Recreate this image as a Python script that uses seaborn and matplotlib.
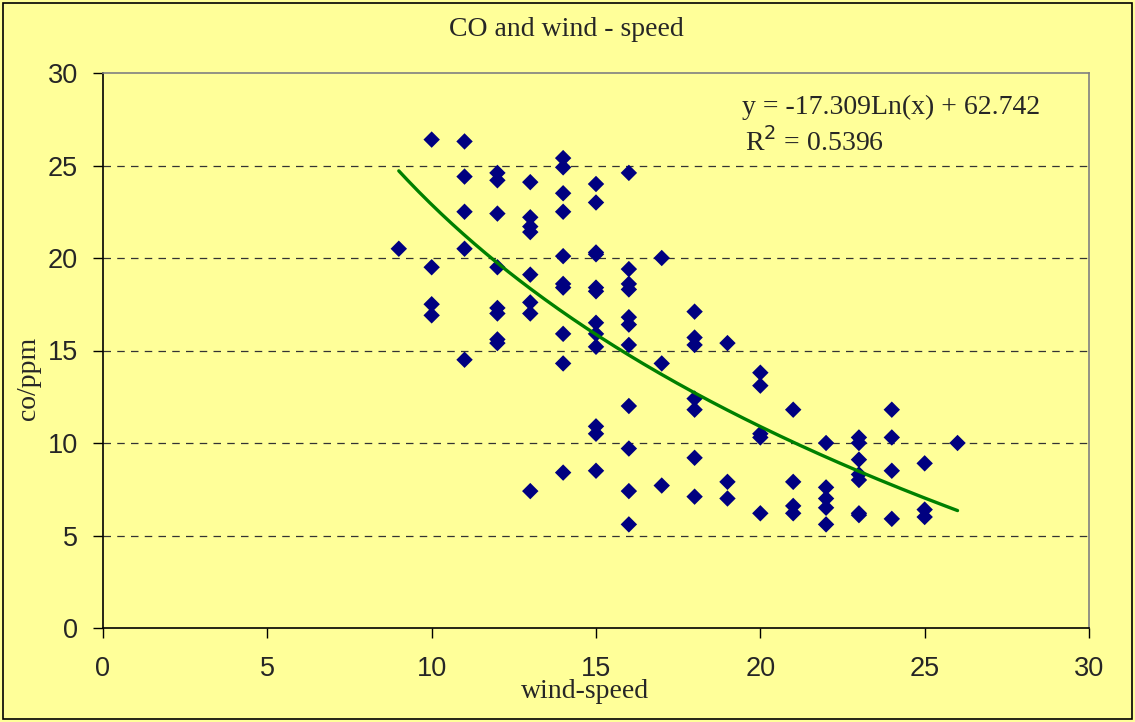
import numpy as np
import pandas as pd
import matplotlib
matplotlib.use("Agg")
import matplotlib.pyplot as plt
import seaborn as sns

# Valeurs : vitesse du vent -> CO (ppm)
vent_9 = [20.5]
vent_10 = [26.4, 19.5, 17.5, 16.9]
vent_11 = [26.3, 24.4, 22.5, 20.5, 14.5]
vent_12 = [24.6, 24.2, 22.4, 19.5, 17.3, 17.0, 15.6, 15.4]
vent_13 = [24.1, 22.2, 21.7, 21.4, 19.1, 17.6, 17.0, 7.4]
vent_14 = [25.4, 24.9, 23.5, 22.5, 20.1, 18.6, 18.4, 15.9, 14.3, 8.4]
vent_15 = [24.0, 23.0, 20.3, 20.2, 18.4, 18.2, 16.5, 15.9, 15.2, 10.9, 10.5, 8.5]
vent_16 = [24.6, 19.4, 18.6, 18.3, 16.8, 16.4, 15.3, 12.0, 9.7, 7.4, 5.6]
vent_17 = [20.0, 14.3, 7.7]
vent_18 = [17.1, 15.7, 15.3, 12.4, 11.8, 9.2, 7.1]
vent_19 = [15.4, 7.9, 7.0]
vent_20 = [13.8, 13.1, 10.5, 10.3, 6.2]
vent_21 = [11.8, 7.9, 6.6, 6.2]
vent_22 = [10.0, 7.6, 7.0, 6.5, 5.6]
vent_23 = [10.3, 10.0, 9.1, 8.3, 8.0, 6.2, 6.1]
vent_24 = [11.8, 10.3, 8.5, 5.9]
vent_25 = [8.9, 6.4, 6.0]
vent_26 = [10.0]

mesures = {9: vent_9, 10: vent_10, 11: vent_11, 12: vent_12, 13: vent_13,
           14: vent_14, 15: vent_15, 16: vent_16, 17: vent_17, 18: vent_18,
           19: vent_19, 20: vent_20, 21: vent_21, 22: vent_22, 23: vent_23,
           24: vent_24, 25: vent_25, 26: vent_26}

# Coefficients de la courbe de tendance (affichés sur le graphique)
coef_a = -17.309
coef_b = 62.742
r2 = 0.5396

donnees = pd.DataFrame([(v, c) for v, lst in mesures.items() for c in lst],
                       columns=["wind-speed", "co"])

# Style
sns.set_style("white")
jaune = "#FFFF99"
serif = ["Liberation Serif", "DejaVu Serif"]
plt.rcParams["font.family"] = ["Liberation Sans", "DejaVu Sans"]

fig = plt.figure(figsize=(11.35, 7.22), dpi=100, facecolor=jaune)
ax = fig.add_axes([103 / 1135, 1 - 628 / 722, (1089 - 103) / 1135, (628 - 73) / 722])
ax.set_facecolor(jaune)

# Lignes de grille horizontales en pointillés
for yv in [5, 10, 15, 20, 25]:
    ax.axhline(yv, color="#333333", lw=0.9, ls=(0, (6, 5)), zorder=1)

# Nuage de points
sns.scatterplot(data=donnees, x="wind-speed", y="co", marker="D", s=70,
                color="#000080", edgecolor="none", ax=ax, zorder=3)

# Courbe de tendance logarithmique
xs = np.linspace(donnees["wind-speed"].min(), donnees["wind-speed"].max(), 200)
sns.lineplot(x=xs, y=coef_a * np.log(xs) + coef_b, color="#008000", lw=2.4,
             ax=ax, zorder=4)

ax.set_xlim(0, 30)
ax.set_ylim(0, 30)
ax.set_xticks(range(0, 31, 5))
ax.set_yticks(range(0, 31, 5))
ax.tick_params(axis="both", which="both", direction="out", length=7, width=1,
               color="black", labelsize=19.5, left=True, bottom=True)
ax.tick_params(axis="x", pad=13)
ax.tick_params(axis="y", pad=11)

for side in ["left", "bottom"]:
    ax.spines[side].set_color("black")
    ax.spines[side].set_linewidth(1.2)
for side in ["top", "right"]:
    ax.spines[side].set_color("#808080")
    ax.spines[side].set_linewidth(1.2)

ax.set_xlabel("")
ax.set_ylabel("")
fig.text(585 / 1135, 1 - 692 / 722, "wind-speed", family=serif, fontsize=20,
         ha="center", va="center")
fig.text(28 / 1135, 1 - 378 / 722, "co/ppm", family=serif, fontsize=20,
         ha="center", va="center", rotation=90)
fig.text(566 / 1135, 1 - 29 / 722, "CO and wind - speed", family=serif,
         fontsize=20, ha="center", va="center")

fig.text(742 / 1135, 1 - 107 / 722, f"y = {coef_a}Ln(x) + {coef_b}",
         family=serif, fontsize=20, ha="left", va="center")
fig.text(745 / 1135, 1 - 142 / 722, f"R$^2$ = {r2}", family=serif,
         fontsize=20, ha="left", va="center")

# Cadre extérieur
fig.patches.append(plt.Rectangle((3 / 1135, 3 / 722), 1 - 6 / 1135, 1 - 6 / 722,
                                 transform=fig.transFigure, fill=False,
                                 edgecolor="black", lw=1.2))

fig.savefig("out.png", dpi=100, facecolor=jaune)
